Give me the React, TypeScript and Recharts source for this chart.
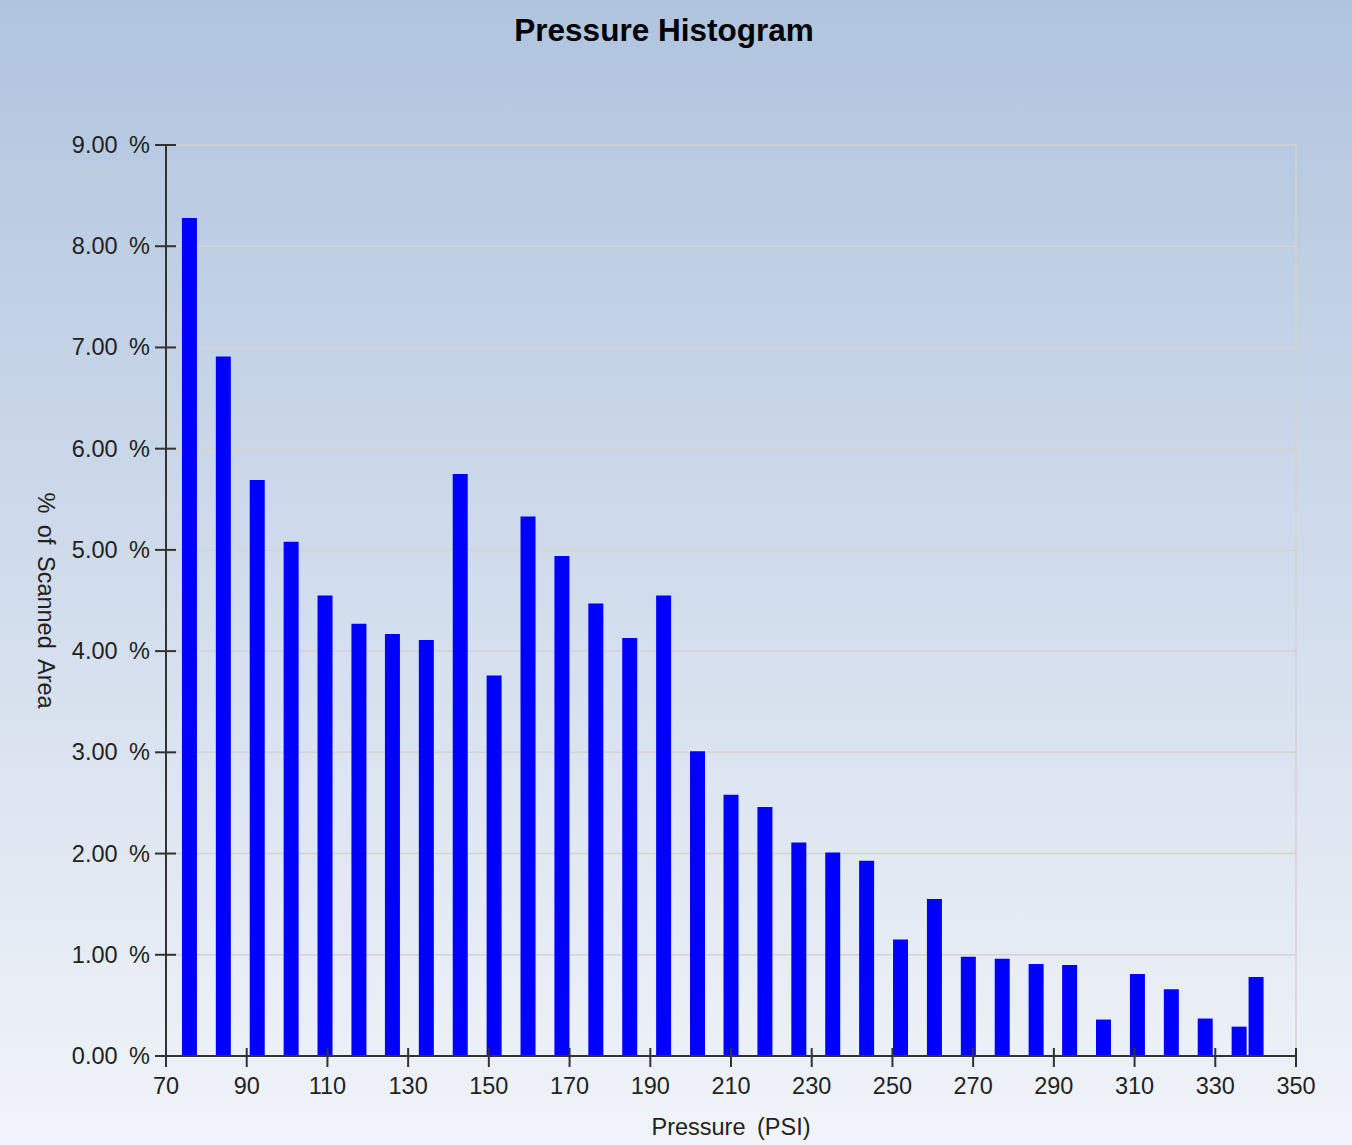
import { BarChart, Bar, XAxis, YAxis, CartesianGrid, ReferenceLine, Label } from 'recharts';

const FONT = "'Liberation Sans', Arial, sans-serif";

// bin centers (PSI) and share of scanned area (%)
const pressureBins = [
  75.8, 84.2, 92.6, 101.0, 109.4, 117.8, 126.1, 134.5, 142.9, 151.3, 159.7,
  168.1, 176.5, 184.9, 193.3, 201.7, 210.0, 218.4, 226.8, 235.2, 243.6, 252.0,
  260.4, 268.8, 277.2, 285.6, 293.9, 302.3, 310.7, 319.1, 327.5, 335.9, 340.1,
];
const scannedPercent = [
  8.28, 6.91, 5.69, 5.08, 4.55, 4.27, 4.17, 4.11, 5.75, 3.76, 5.33,
  4.94, 4.47, 4.13, 4.55, 3.01, 2.58, 2.46, 2.11, 2.01, 1.93, 1.15,
  1.55, 0.98, 0.96, 0.91, 0.9, 0.36, 0.81, 0.66, 0.37, 0.29, 0.78,
];
const pressureTicks = [70, 90, 110, 130, 150, 170, 190, 210, 230, 250, 270, 290, 310, 330, 350];
const percentTicks = [0, 1, 2, 3, 4, 5, 6, 7, 8, 9];

const data = pressureBins.map((p, i) => ({ pressure: p, percent: scannedPercent[i] }));

function YTick({ x, y, payload }: any) {
  return (
    <g>
      <line x1={x + 5} x2={x + 26} y1={y} y2={y} stroke="#333" strokeWidth={2} />
      <text
        x={x}
        y={y + 8}
        textAnchor="end"
        fontFamily={FONT}
        fontSize={23.5}
        fill="#222"
        style={{ wordSpacing: 5 }}
      >
        {payload.value.toFixed(2) + ' %'}
      </text>
    </g>
  );
}

function XTick({ x, y, payload }: any) {
  return (
    <g>
      <line x1={x} x2={x} y1={y - 19} y2={y} stroke="#333" strokeWidth={2} />
      <text x={x} y={y + 27} textAnchor="middle" fontFamily={FONT} fontSize={23.5} fill="#222">
        {payload.value}
      </text>
    </g>
  );
}

export default function App() {
  return (
    <div
      style={{
        position: 'absolute',
        left: 0,
        top: 0,
        width: 1352,
        height: 1145,
        background: 'linear-gradient(to bottom, #b0c4de 0%, #f1f4f9 100%)',
      }}
    >
      <div
        style={{
          position: 'absolute',
          left: 0,
          width: 1328,
          top: 15,
          textAlign: 'center',
          fontFamily: FONT,
          fontWeight: 'bold',
          fontSize: 31.5,
          lineHeight: '31px',
          color: '#000',
        }}
      >
        Pressure Histogram
      </div>
      <BarChart
        width={1352}
        height={1145}
        data={data}
        margin={{ top: 145, right: 56, left: 46, bottom: 29 }}
        style={{ position: 'absolute', left: 0, top: 0 }}
      >
        <CartesianGrid vertical={false} stroke="#d5d2cf" strokeWidth={1.5} />
        <ReferenceLine x={350} stroke="#d5d2cf" strokeWidth={1.5} />
        <XAxis
          dataKey="pressure"
          type="number"
          domain={[70, 350]}
          ticks={pressureTicks}
          height={60}
          tickSize={11}
          tickMargin={0}
          tickLine={false}
          axisLine={{ stroke: '#333', strokeWidth: 2 }}
          tick={<XTick />}
          interval={0}
        >
          <Label
            content={({ viewBox }: any) => (
              <text
                x={viewBox.x + viewBox.width / 2}
                y={viewBox.y + 79}
                textAnchor="middle"
                fontFamily={FONT}
                fontSize={23.5}
                fill="#222"
                style={{ wordSpacing: 5 }}
              >
                Pressure (PSI)
              </text>
            )}
          />
        </XAxis>
        <YAxis
          type="number"
          domain={[0, 9]}
          ticks={percentTicks}
          width={120}
          tickSize={11}
          tickMargin={5}
          tickLine={false}
          axisLine={{ stroke: '#333', strokeWidth: 2 }}
          tick={<YTick />}
          interval={0}
        >
          <Label
            content={({ viewBox }: any) => {
              const cx = viewBox.x - 8.5;
              const cy = viewBox.y + viewBox.height / 2;
              return (
                <text
                  x={cx}
                  y={cy}
                  textAnchor="middle"
                  transform={`rotate(90, ${cx}, ${cy})`}
                  fontFamily={FONT}
                  fontSize={23.5}
                  fill="#222"
                  style={{ wordSpacing: 5 }}
                >
                  % of Scanned Area
                </text>
              );
            }}
          />
        </YAxis>
        <Bar dataKey="percent" fill="#0000ff" barSize={15} isAnimationActive={false} />
      </BarChart>
    </div>
  );
}
